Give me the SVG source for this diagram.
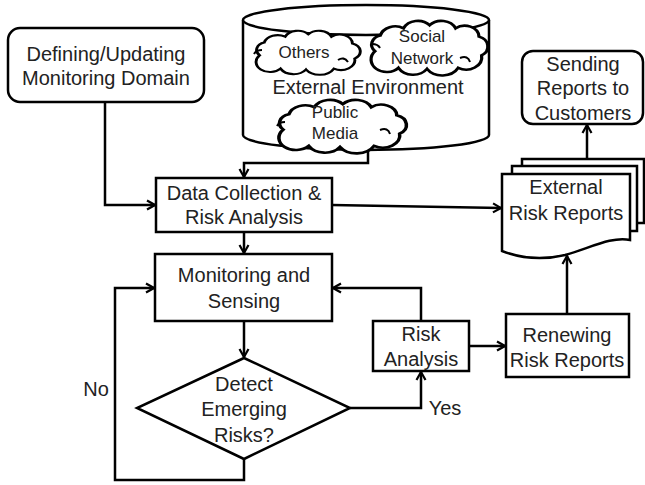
<svg xmlns="http://www.w3.org/2000/svg" width="645" height="485" viewBox="0 0 645 485">
<style>
.s{fill:#fff;stroke:#000;stroke-width:2.5}
.l{fill:none;stroke:#000;stroke-width:2.5}
.c{fill:#fff;stroke:#000;stroke-width:2.5;vector-effect:non-scaling-stroke}
.ci{fill:none;stroke:#000;stroke-width:2;vector-effect:non-scaling-stroke}
text{font-family:"Liberation Sans",Arial,sans-serif;font-size:20px;fill:#222;text-anchor:middle}
.sm{font-size:17px}
</style>
<defs>
<marker id="a" markerWidth="12" markerHeight="12" refX="10" refY="6" orient="auto" markerUnits="userSpaceOnUse">
<path d="M2,1.5 L10,6 L2,10.5" fill="none" stroke="#000" stroke-width="2.2"/>
</marker>
<path id="cloud" d="M10,30 A9,9 0 0 1 14,15 A12,12 0 0 1 32,8 A12,12 0 0 1 52,5 A12,12 0 0 1 72,8 A11,11 0 0 1 90,16 A10,10 0 0 1 92,34 A12,12 0 0 1 74,46 A14,14 0 0 1 50,47 A13,13 0 0 1 28,46 A10,10 0 0 1 10,30 Z"/>
</defs>
<rect width="645" height="485" fill="#fff"/>

<g id="environment">
<path class="s" d="M243,20 V135 A123,15 0 0 0 489,135 V20"/>
<ellipse class="s" cx="366" cy="20" rx="123" ry="15"/>
<use href="#cloud" class="c" transform="translate(248,30) scale(1.16,0.84)"/>
<path class="ci" d="M338,60 q6,-4 10,2 M262,50 q-6,0 -8,4"/>
<use href="#cloud" class="c" transform="translate(362,20) scale(1.3,1.04)"/>
<path class="ci" d="M460,58 q8,-3 10,4 M372,44 q6,0 8,4"/>
<text x="304" y="58" class="sm">Others</text>
<text x="422" y="42" class="sm">Social</text>
<text x="422" y="64" class="sm">Network</text>
<text x="368" y="94">External Environment</text>
<use href="#cloud" class="c" transform="translate(269,99) scale(1.42,1.02)"/>
<path class="ci" d="M380,130 q8,-3 10,4 M285,122 q-6,0 -8,4"/>
<text x="335" y="118" class="sm">Public</text>
<text x="335" y="139" class="sm">Media</text>
</g>

<g id="defining">
<rect class="s" x="8" y="28" width="196" height="74" rx="12"/>
<text x="106" y="61">Defining/Updating</text>
<text x="106" y="85">Monitoring Domain</text>
</g>

<g id="datacollection">
<rect class="s" x="156" y="178" width="176" height="54"/>
<text x="244" y="200">Data Collection &amp;</text>
<text x="244" y="224">Risk Analysis</text>
</g>

<g id="monitoring">
<rect class="s" x="155" y="254" width="177" height="67"/>
<text x="244" y="282">Monitoring and</text>
<text x="244" y="308">Sensing</text>
</g>

<g id="detect">
<polygon class="s" points="244,358 350,408 244,459 137,408"/>
<text x="244" y="391">Detect</text>
<text x="244" y="416">Emerging</text>
<text x="244" y="442">Risks?</text>
</g>

<g id="riskanalysis">
<rect class="s" x="373" y="321" width="96" height="50"/>
<text x="421" y="341">Risk</text>
<text x="421" y="366">Analysis</text>
</g>

<g id="renewing">
<rect class="s" x="506" y="314" width="123" height="63"/>
<text x="567" y="342">Renewing</text>
<text x="567" y="367">Risk Reports</text>
</g>

<g id="reports">
<path class="s" d="M522,166 V159 H644 V223 H637"/>
<path class="s" d="M512,174 V166 H637 V231 H630"/>
<path class="s" d="M502,174 H630 V240 C612,236 590,248 565,255 C540,261 520,258 502,251 Z"/>
<text x="566" y="194">External</text>
<text x="566" y="220">Risk Reports</text>
</g>

<g id="sending">
<rect class="s" x="522" y="51" width="121" height="73" rx="11"/>
<text x="583" y="71">Sending</text>
<text x="583" y="95">Reports to</text>
<text x="583" y="120">Customers</text>
</g>

<g id="connectors">
<path class="l" d="M368,150 V163 H244 V177" marker-end="url(#a)"/>
<path class="l" d="M105,102 V205 H155" marker-end="url(#a)"/>
<path class="l" d="M332,205 L501,208" marker-end="url(#a)"/>
<path class="l" d="M244,232 V253" marker-end="url(#a)"/>
<path class="l" d="M244,321 V357" marker-end="url(#a)"/>
<path class="l" d="M244,459 V480 H115 V288 H154" marker-end="url(#a)"/>
<path class="l" d="M350,408 H421 V372" marker-end="url(#a)"/>
<path class="l" d="M421,321 V288 H333" marker-end="url(#a)"/>
<path class="l" d="M469,346 H505" marker-end="url(#a)"/>
<path class="l" d="M567,314 V256" marker-end="url(#a)"/>
<path class="l" d="M587,159 V125" marker-end="url(#a)"/>
<text x="96" y="396">No</text>
<text x="445" y="415">Yes</text>
</g>
</svg>
